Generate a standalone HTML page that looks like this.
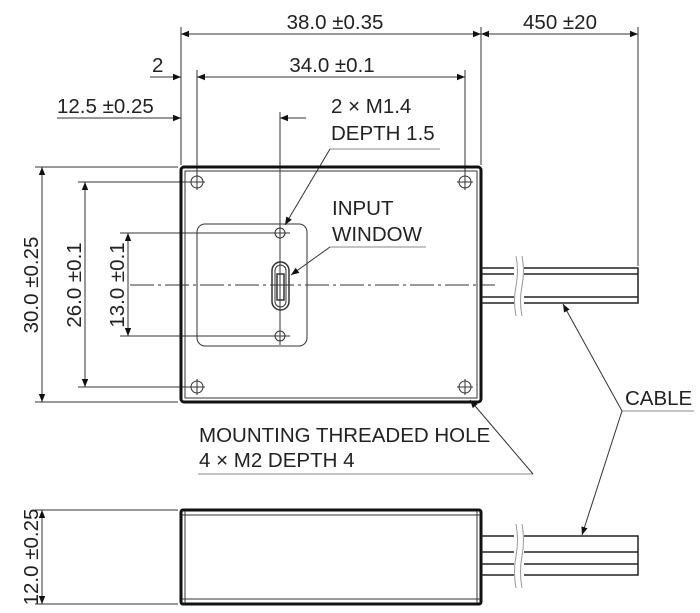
<!DOCTYPE html>
<html><head><style>html,body{margin:0;padding:0;background:#fff}svg{display:block}text{font-family:"Liberation Sans",sans-serif;font-size:20.5px;fill:#222}</style></head><body>
<svg width="700" height="613" viewBox="0 0 700 613" xmlns="http://www.w3.org/2000/svg">
<defs><marker id="a" viewBox="0 0 10 10" refX="10" refY="5" markerWidth="15" markerHeight="8" markerUnits="userSpaceOnUse" orient="auto-start-reverse"><path d="M0,1L10,5L0,9z" fill="#111"/></marker></defs>
<g stroke="#333" stroke-width="1" fill="none">
<line x1="181" y1="27" x2="181" y2="165"/><line x1="481" y1="27" x2="481" y2="165"/>
<line x1="638" y1="27" x2="638" y2="266"/>
<line x1="197" y1="70" x2="197" y2="175"/><line x1="465" y1="70" x2="465" y2="175"/>
<line x1="280" y1="112" x2="280" y2="345"/>
<line x1="35" y1="167" x2="178" y2="167"/><line x1="35" y1="402" x2="178" y2="402"/>
<line x1="78" y1="182" x2="190" y2="182"/><line x1="78" y1="387" x2="190" y2="387"/>
<line x1="120" y1="233" x2="274" y2="233"/><line x1="120" y1="336" x2="274" y2="336"/>
<line x1="35" y1="510" x2="178" y2="510"/><line x1="35" y1="604" x2="178" y2="604"/>
<line x1="181" y1="34" x2="481" y2="34" marker-start="url(#a)" marker-end="url(#a)"/>
<line x1="481" y1="34" x2="638" y2="34" marker-start="url(#a)" marker-end="url(#a)"/>
<line x1="197" y1="77" x2="465" y2="77" marker-start="url(#a)" marker-end="url(#a)"/>
<line x1="150" y1="77" x2="181" y2="77" marker-end="url(#a)"/>
<line x1="57" y1="118" x2="181" y2="118" marker-end="url(#a)"/>
<line x1="306" y1="118" x2="280" y2="118" marker-end="url(#a)"/>
<line x1="42" y1="167" x2="42" y2="402" marker-start="url(#a)" marker-end="url(#a)"/>
<line x1="85" y1="182" x2="85" y2="387" marker-start="url(#a)" marker-end="url(#a)"/>
<line x1="128" y1="233" x2="128" y2="336" marker-start="url(#a)" marker-end="url(#a)"/>
<line x1="42" y1="510" x2="42" y2="604" marker-start="url(#a)" marker-end="url(#a)"/>
<polyline points="440,149 330,149" stroke="#888"/><line x1="330" y1="149" x2="285" y2="225" marker-end="url(#a)"/>
<polyline points="426,247 330,247" stroke="#888"/><line x1="330" y1="247" x2="291" y2="275" marker-end="url(#a)"/>
<line x1="198" y1="474" x2="533" y2="474" stroke="#888"/><line x1="533" y1="474" x2="470" y2="400" marker-end="url(#a)"/>
<line x1="622" y1="411" x2="694" y2="411" stroke="#888"/>
<line x1="622" y1="411" x2="563" y2="304" marker-end="url(#a)"/>
<line x1="622" y1="411" x2="582" y2="535" marker-end="url(#a)"/>
<line x1="130" y1="285" x2="495" y2="285" stroke-dasharray="24,4,3,4"/>
<rect x="181" y="167" width="300" height="235" rx="3" stroke="#111" stroke-width="3"/>
<rect x="185" y="171" width="292" height="227" stroke-width="1"/>
<rect x="197" y="224" width="110" height="122" rx="8"/>
<rect x="272" y="262" width="17" height="48" rx="8.5" stroke-width="1.5"/>
<rect x="275" y="265" width="11" height="42" rx="5.5"/>
<rect x="277" y="274" width="7" height="26" stroke-width="1.5"/>
<circle cx="280" cy="233" r="5"/><circle cx="280" cy="336" r="5"/>
<line x1="270" y1="336" x2="290" y2="336"/><line x1="270" y1="233" x2="290" y2="233"/>
<circle cx="197" cy="182" r="6"/><circle cx="465" cy="182" r="6"/><circle cx="197" cy="387" r="6"/><circle cx="465" cy="387" r="6"/>
<path d="M189 182h16M197 174v16M457 182h16M465 174v16M189 387h16M197 379v16M457 387h16M465 379v16"/>
<path d="M481 268H638V303H481M481 274H638M481 297H638" stroke="#222" stroke-width="1.5"/>
<rect x="514" y="258" width="10" height="55" fill="#fff" stroke="none"/>
<path d="M516 256q3 15 0 30t0 30M522 256q3 15 0 30t0 30" stroke="#999"/>
<rect x="181" y="510" width="300" height="94" rx="2" stroke="#111" stroke-width="3"/>
<path d="M185 511V603M477 511V603M182 515H480M182 599H480" stroke-width="1"/>
<path d="M481 536H638V575H481M481 552H638M481 564H638" stroke="#222" stroke-width="1.5"/>
<rect x="514" y="526" width="10" height="60" fill="#fff" stroke="none"/>
<path d="M516 524q3 16 0 32t0 32M522 524q3 16 0 32t0 32" stroke="#999"/>
</g>
<text x="335" y="29" text-anchor="middle">38.0 ±0.35</text>
<text x="560" y="29" text-anchor="middle">450 ±20</text>
<text x="332" y="72" text-anchor="middle">34.0 ±0.1</text>
<text x="152" y="72">2</text>
<text x="57" y="113">12.5 ±0.25</text>
<text x="331" y="113">2 × M1.4</text>
<text x="331" y="140">DEPTH 1.5</text>
<text x="332" y="215">INPUT</text>
<text x="332" y="241">WINDOW</text>
<text x="625" y="405">CABLE</text>
<text x="199" y="442">MOUNTING THREADED HOLE</text>
<text x="199" y="467">4 × M2 DEPTH 4</text>
<text transform="translate(38,285) rotate(-90)" text-anchor="middle">30.0 ±0.25</text>
<text transform="translate(81,285) rotate(-90)" text-anchor="middle">26.0 ±0.1</text>
<text transform="translate(124,285) rotate(-90)" text-anchor="middle">13.0 ±0.1</text>
<text transform="translate(38,557) rotate(-90)" text-anchor="middle">12.0 ±0.25</text>
</svg></body></html>
